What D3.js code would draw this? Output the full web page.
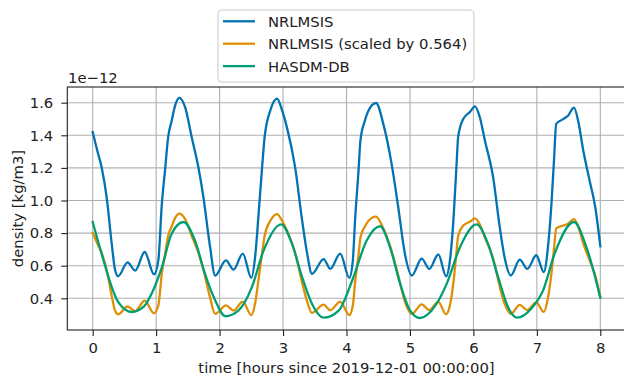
<!DOCTYPE html>
<html>
<head>
<meta charset="utf-8">
<script src="https://cdn.jsdelivr.net/npm/d3@7"></script>
<style>
  body { margin: 0; background: #fff; }
  svg { display: block; }
  text { font-family: "DejaVu Sans", sans-serif; fill: #222; }
</style>
</head>
<body>
<div id="chart"></div>
<script>
// Data (density in units of 1e-12 kg/m3, time in hours)
const nrlmsisTime = [0.00, 0.07, 0.14, 0.22, 0.30, 0.35, 0.40, 0.55, 0.67, 0.82, 0.966, 1.035, 1.09, 1.14, 1.19, 1.245, 1.30, 1.365, 1.455, 1.56, 1.665, 1.745, 1.85, 1.93,
    2.10, 2.22, 2.365, 2.50, 2.565, 2.615, 2.67, 2.71, 2.80, 2.905, 2.985, 3.06, 3.19, 3.30, 3.38, 3.455,
    3.64, 3.745, 3.90, 4.045, 4.10, 4.135, 4.19, 4.22, 4.29, 4.40, 4.465, 4.58, 4.71, 4.815, 4.92, 5.03,
    5.185, 5.305, 5.447, 5.57, 5.63, 5.685, 5.735, 5.76, 5.84, 5.945, 6.025, 6.10, 6.18, 6.31, 6.415, 6.49, 6.59,
    6.73, 6.85, 6.99, 7.11, 7.175, 7.23, 7.27, 7.305, 7.41, 7.49, 7.585, 7.65, 7.73, 7.83, 7.92, 8.00];
const nrlmsisDensity = [1.42, 1.31, 1.205, 1.02, 0.735, 0.58, 0.535, 0.62, 0.57, 0.684, 0.547, 0.633, 0.98, 1.185, 1.39, 1.49, 1.584, 1.63, 1.574, 1.39, 1.205, 1.02, 0.715, 0.54,
    0.633, 0.576, 0.674, 0.526, 0.674, 0.92, 1.205, 1.39, 1.553, 1.625, 1.553, 1.45, 1.205, 0.88, 0.674, 0.55,
    0.64, 0.58, 0.674, 0.526, 0.633, 0.88, 1.185, 1.37, 1.49, 1.584, 1.598, 1.47, 1.226, 0.96, 0.674, 0.54,
    0.643, 0.58, 0.67, 0.535, 0.633, 0.88, 1.226, 1.39, 1.50, 1.543, 1.578, 1.512, 1.37, 1.144, 0.837, 0.653, 0.54,
    0.637, 0.58, 0.664, 0.561, 0.715, 0.98, 1.247, 1.47, 1.498, 1.52, 1.57, 1.49, 1.31, 1.124, 0.96, 0.72];
const scaleFactor = 0.564;

const hasdmTime = [0.00, 0.14, 0.30, 0.40, 0.615, 0.80, 0.93, 1.09, 1.245, 1.43, 1.61, 1.77, 1.93, 2.09, 2.30, 2.51, 2.695, 2.97,
    3.14, 3.30, 3.455, 3.64, 3.88, 4.10, 4.32, 4.53, 4.685, 4.845, 5.00, 5.16, 5.42, 5.58, 5.79, 6.05,
    6.23, 6.39, 6.545, 6.69, 6.91, 7.10, 7.28, 7.585, 7.78, 8.00];
const hasdmDensity = [0.868, 0.674, 0.47, 0.378, 0.316, 0.347, 0.43, 0.59, 0.796, 0.868, 0.756, 0.55, 0.388, 0.29, 0.326, 0.47, 0.694, 0.854,
    0.735, 0.53, 0.367, 0.281, 0.326, 0.52, 0.756, 0.842, 0.715, 0.49, 0.326, 0.279, 0.367, 0.49, 0.715, 0.853,
    0.735, 0.53, 0.347, 0.281, 0.336, 0.45, 0.674, 0.868, 0.715, 0.404];

const xTicks = [0, 1, 2, 3, 4, 5, 6, 7, 8];
const yTicks = [0.4, 0.6, 0.8, 1.0, 1.2, 1.4, 1.6];
const seriesNames = ["NRLMSIS", "NRLMSIS (scaled by " + scaleFactor + ")", "HASDM-DB"];
const seriesColors = ["#0173b2", "#de8f05", "#029e73"];

const W = 624, H = 381;
const plotLeft = 67.3, plotRight = 625.7, plotTop = 87, plotBottom = 330;
const fontSize = "14.8px";

const svg = d3.select("#chart").append("svg")
    .attr("width", W)
    .attr("height", H);

const x = d3.scaleLinear().domain([-0.4, 8.4]).range([plotLeft, plotRight]);
const y = d3.scaleLinear().domain([0.2055, 1.6963]).range([plotBottom, plotTop]);

// grid
svg.append("g")
    .selectAll("line")
    .data(xTicks).join("line")
    .attr("x1", d => x(d)).attr("x2", d => x(d))
    .attr("y1", plotTop).attr("y2", plotBottom)
    .attr("stroke", "#b0b0b0").attr("stroke-width", 1.1);
svg.append("g")
    .selectAll("line")
    .data(yTicks).join("line")
    .attr("x1", plotLeft).attr("x2", plotRight)
    .attr("y1", d => y(d)).attr("y2", d => y(d))
    .attr("stroke", "#b0b0b0").attr("stroke-width", 1.1);

// lines
const series = [
    nrlmsisTime.map((t, i) => [t, nrlmsisDensity[i]]),
    nrlmsisTime.map((t, i) => [t, nrlmsisDensity[i] * scaleFactor]),
    hasdmTime.map((t, i) => [t, hasdmDensity[i]])
];
const line = d3.line()
    .x(d => x(d[0]))
    .y(d => y(d[1]))
    .curve(d3.curveMonotoneX);

svg.append("g")
    .selectAll("path")
    .data(series).join("path")
    .attr("d", line)
    .attr("fill", "none")
    .attr("stroke", (d, i) => seriesColors[i])
    .attr("stroke-width", 2.3)
    .attr("stroke-linejoin", "round")
    .attr("stroke-linecap", "square");

// axes
const xAxis = svg.append("g")
    .attr("transform", `translate(0,${plotBottom})`)
    .call(d3.axisBottom(x).tickValues(xTicks).tickSize(6).tickPadding(6).tickFormat(d3.format("d")));
const yAxis = svg.append("g")
    .attr("transform", `translate(${plotLeft},0)`)
    .call(d3.axisLeft(y).tickValues(yTicks).tickSize(6).tickPadding(8).tickFormat(d3.format(".1f")));

[xAxis, yAxis].forEach(a => {
    a.select(".domain").remove();
    a.selectAll(".tick line").attr("stroke", "#222").attr("stroke-width", 1.1);
    a.selectAll(".tick text").style("font-size", fontSize).attr("fill", "#222");
});

// frame (top, left, bottom; right edge falls outside the picture)
svg.append("rect")
    .attr("x", plotLeft).attr("y", plotTop)
    .attr("width", plotRight - plotLeft).attr("height", plotBottom - plotTop)
    .attr("fill", "none")
    .attr("stroke", "#222").attr("stroke-width", 1.1);

// labels
svg.append("text")
    .attr("x", 68).attr("y", 83)
    .style("font-size", fontSize)
    .text("1e\u221212");

svg.append("text")
    .attr("transform", `translate(23,${(plotTop + plotBottom) / 2}) rotate(-90)`)
    .attr("text-anchor", "middle")
    .style("font-size", fontSize)
    .text("density [kg/m3]");

svg.append("text")
    .attr("x", (plotLeft + plotRight) / 2).attr("y", 373)
    .attr("text-anchor", "middle")
    .style("font-size", fontSize)
    .text("time [hours since 2019-12-01 00:00:00]");

// legend
const legend = svg.append("g");
legend.append("rect")
    .attr("x", 218).attr("y", 10)
    .attr("width", 256).attr("height", 72)
    .attr("rx", 4)
    .attr("fill", "#fff").attr("fill-opacity", 0.8)
    .attr("stroke", "#cccccc").attr("stroke-width", 1.1);

const rows = legend.selectAll("g")
    .data(seriesNames).join("g")
    .attr("transform", (d, i) => `translate(0,${21.3 + i * 22.4})`);
rows.append("line")
    .attr("x1", 223).attr("x2", 255)
    .attr("stroke", (d, i) => seriesColors[i])
    .attr("stroke-width", 2.3);
rows.append("text")
    .attr("x", 268).attr("y", 5.5)
    .style("font-size", fontSize)
    .text(d => d);
</script>
</body>
</html>
